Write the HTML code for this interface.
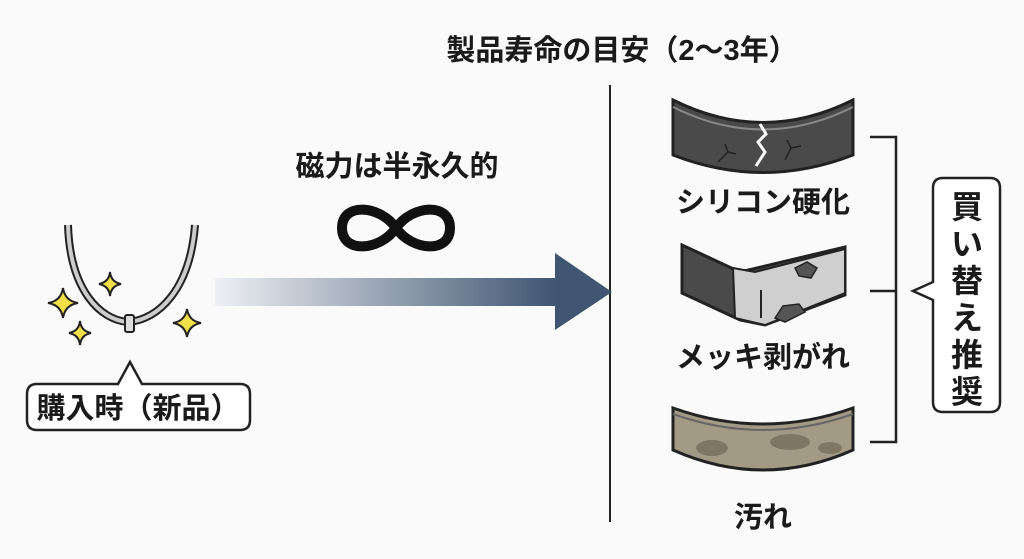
<!DOCTYPE html>
<html><head><meta charset="utf-8"><style>
body{margin:0;background:#fafafa;}
svg{display:block;font-family:"Liberation Sans","Noto Sans CJK JP",sans-serif;font-weight:bold;}
</style></head><body>
<svg width="1024" height="559" viewBox="0 0 1024 559" xmlns="http://www.w3.org/2000/svg">
<defs>
<linearGradient id="ag" x1="0" x2="1" y1="0" y2="0">
<stop offset="0" stop-color="#eef0f4"/><stop offset="1" stop-color="#3f5571"/></linearGradient>
</defs>
<rect width="1024" height="559" fill="#fafafa"/>
<text x="622" y="60" font-size="29" text-anchor="middle" fill="#1a1a1a">製品寿命の目安（2〜3年）</text>
<line x1="610" y1="85" x2="610" y2="522" stroke="#222" stroke-width="2"/>
<text x="397" y="176" font-size="29" text-anchor="middle" fill="#1a1a1a">磁力は半永久的</text>
<path d="M396 228 C380 205 342 202 342 228 C342 254 380 251 396 228 C412 205 450 202 450 228 C450 254 412 251 396 228 Z" fill="none" stroke="#111" stroke-width="10"/>
<rect x="215" y="278" width="342" height="28" fill="url(#ag)"/>
<polygon points="555,253 612,292 555,330" fill="#3f5571"/>
<path d="M68 225 C70 290 100 320 128 322 C158 320 190 290 195 225" fill="none" stroke="#222" stroke-width="8"/>
<path d="M68 225 C70 290 100 320 128 322 C158 320 190 290 195 225" fill="none" stroke="#ccc" stroke-width="4"/>
<rect x="125" y="315" width="9" height="17" rx="2" fill="#ddd" stroke="#222" stroke-width="2"/>
<g fill="#f2e04a" stroke="#222" stroke-width="2">
<path d="M63 288 Q65 301 78 303 Q65 305 63 318 Q61 305 48 303 Q61 301 63 288Z"/>
<path d="M110 272 Q111 282 121 284 Q111 286 110 296 Q109 286 99 284 Q109 282 110 272Z"/>
<path d="M80 321 Q81 331 91 333 Q81 335 80 345 Q79 335 69 333 Q79 331 80 321Z"/>
<path d="M187 309 Q189 321 201 323 Q189 325 187 337 Q185 325 173 323 Q185 321 187 309Z"/>
</g>
<path d="M37 384 L118 384 L130 362 L142 384 L240 384 Q250 384 250 394 L250 420 Q250 430 240 430 L37 430 Q27 430 27 420 L27 394 Q27 384 37 384Z" fill="#fff" stroke="#222" stroke-width="2.5"/>
<text x="138" y="418" font-size="29" text-anchor="middle" fill="#1a1a1a">購入時（新品）</text>
<path d="M673 100 Q763 145 853 100 L853 155 Q763 190 673 155Z" fill="#4a4a4a" stroke="#222" stroke-width="3"/>
<path d="M673 107 Q763 152 853 107" fill="none" stroke="#888" stroke-width="2"/>
<path d="M760 124 L766 134 L758 142 L765 152 L756 166" fill="none" stroke="#fafafa" stroke-width="3"/>
<path d="M718 162 l10 -10 l8 2 m-8 -2 l-3 -8 M785 160 l6 -12 l10 -2 m-10 2 l-4 -8" fill="none" stroke="#222" stroke-width="1.5"/>
<text x="763" y="212" font-size="29" text-anchor="middle" fill="#1a1a1a">シリコン硬化</text>
<path d="M682 245 L740 272 L845 247 L845 295 L765 325 L740 320 L682 293Z" fill="#4a4a4a" stroke="#222" stroke-width="3"/>
<path d="M733 268 L755 272 L845 249 L845 293 L765 325 L735 318Z" fill="#cfcfcf" stroke="#222" stroke-width="2"/>
<path d="M795 268 l12 -6 l10 6 l-6 10 l-12 -2 z M775 318 l8 -12 l16 -2 l6 8 l-20 10 z" fill="#555" stroke="#222" stroke-width="1.5"/>
<line x1="761" y1="290" x2="761" y2="318" stroke="#222" stroke-width="2"/>
<text x="763" y="367" font-size="29" text-anchor="middle" fill="#1a1a1a">メッキ剥がれ</text>
<path d="M673 408 Q763 440 853 408 L853 450 Q763 490 673 450Z" fill="#a39a85" stroke="#222" stroke-width="3"/>
<path d="M673 414 Q763 446 853 414" fill="none" stroke="#666" stroke-width="2"/>
<ellipse cx="712" cy="448" rx="16" ry="8" fill="#7f7663"/>
<ellipse cx="790" cy="442" rx="20" ry="8" fill="#7f7663"/>
<ellipse cx="830" cy="448" rx="12" ry="6" fill="#7f7663"/>
<text x="763" y="527" font-size="29" text-anchor="middle" fill="#1a1a1a">汚れ</text>
<path d="M870 137 L896 137 L896 442 L870 442 M870 291 L896 291" fill="none" stroke="#222" stroke-width="2.5"/>
<path d="M943 178 L990 178 Q1000 178 1000 188 L1000 402 Q1000 412 990 412 L943 412 Q933 412 933 402 L933 300 L913 291 L933 282 L933 188 Q933 178 943 178Z" fill="#fff" stroke="#222" stroke-width="2.5"/>
<g font-size="32" text-anchor="middle" fill="#1a1a1a">
<text x="967" y="218">買</text><text x="967" y="255">い</text><text x="967" y="292">替</text>
<text x="967" y="329">え</text><text x="967" y="366">推</text><text x="967" y="403">奨</text>
</g>
</svg>
</body></html>
